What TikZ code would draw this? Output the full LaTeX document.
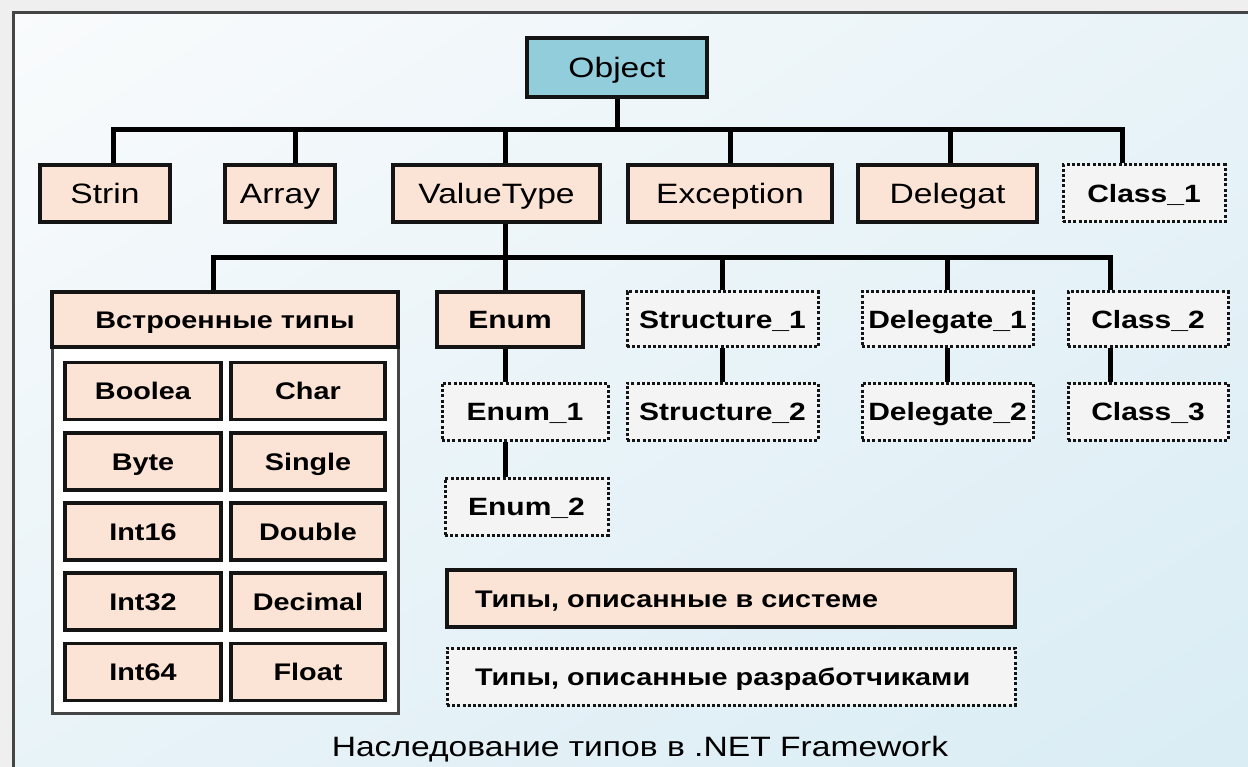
\documentclass[tikz,border=0pt]{standalone}
\usepackage{fontspec}
\setmainfont{Liberation Sans}[FakeStretch=1.2]
\usetikzlibrary{shadings}
\definecolor{peach}{HTML}{FBE4D5}
\definecolor{objblue}{HTML}{92CDDC}
\definecolor{usergray}{HTML}{F4F4F4}
\definecolor{boxline}{HTML}{141414}
\definecolor{framegray}{HTML}{454545}
\definecolor{margingray}{HTML}{EFEFEF}
\definecolor{bgtop}{HTML}{F9FBFC}
\definecolor{bgmid}{HTML}{E8F3F8}
\definecolor{bgbottom}{HTML}{D9ECF4}

\begin{document}
\begin{tikzpicture}[x=1pt, y=-1pt, every node/.style={inner sep=0pt,text depth=0pt}]
  \tikzstyle{sysbox}=[draw=boxline,line width=3.3pt,fill=peach,minimum height=57pt]
  \tikzstyle{userbox}=[draw=boxline,line width=3pt,dash pattern=on 3pt off 2.2pt,fill=usergray,minimum height=57pt]
  \tikzstyle{branch}=[line width=5pt,draw=black]
  \tikzstyle{toptext}=[font=\fontsize{28}{30}\selectfont,text height=20pt]
  \tikzstyle{subtext}=[font=\fontsize{25}{28}\selectfont\bfseries,text height=18pt]
  \tikzstyle{celltext}=[font=\fontsize{24}{26}\selectfont\bfseries,text height=17.2pt]
  \useasboundingbox (0,0) rectangle (1248,767);
  \clip (0,0) rectangle (1248,767);
  \fill[margingray] (0,0) rectangle (1248,767);
  \shade[upper left=bgtop,upper right=bgmid,lower left=bgmid,lower right=bgbottom] (13,13) rectangle (1262,782);
  \draw[framegray,line width=3pt] (1262,13) -- (13,13) -- (13,782);

  \node[sysbox,fill=objblue,minimum width=180pt,minimum height=59pt,toptext] (obj) at (617,67.5) {Object};
  \node[sysbox,minimum width=130pt,toptext] (strin) at (105,193.5) {Strin};
  \node[sysbox,minimum width=110pt,toptext] (arr) at (280,193.5) {Array};
  \node[sysbox,minimum width=207pt,toptext] (vt) at (496.5,193.5) {ValueType};
  \node[sysbox,minimum width=204pt,toptext] (exc) at (730,193.5) {Exception};
  \node[sysbox,minimum width=179pt,toptext] (dlg) at (947.5,193.5) {Delegat};
  \node[userbox,minimum width=162pt,subtext] (clsone) at (1144,193.5) {Class\_1};

  \node[draw=framegray,line width=3pt,fill=white,minimum width=346pt,minimum height=421pt] (builtin) at (225,502.5) {};
  \node[sysbox,minimum width=346pt,minimum height=55pt,celltext] (bihead) at (225,319.5) {Встроенные типы};
  \node[sysbox,minimum width=146pt,minimum height=55pt,subtext] (enum) at (510,319.5) {Enum};
  \node[userbox,minimum width=191pt,minimum height=55pt,subtext] (structone) at (722.5,319.5) {Structure\_1};
  \node[userbox,minimum width=171pt,minimum height=55pt,subtext] (dlgone) at (947.5,319.5) {Delegate\_1};
  \node[userbox,minimum width=160pt,minimum height=55pt,subtext] (clstwo) at (1148,319.5) {Class\_2};

  \node[userbox,minimum width=166pt,subtext] (enumone) at (525,411.5) {Enum\_1};
  \node[userbox,minimum width=191pt,subtext] (structtwo) at (722.5,411.5) {Structure\_2};
  \node[userbox,minimum width=171pt,subtext] (dlgtwo) at (947.5,411.5) {Delegate\_2};
  \node[userbox,minimum width=160pt,subtext] (clsthree) at (1148,411.5) {Class\_3};
  \node[userbox,minimum width=163pt,subtext] (enumtwo) at (526.5,506.5) {Enum\_2};

  \node[sysbox,minimum width=156pt,celltext] (boolea) at (143,391) {Boolea};
  \node[sysbox,minimum width=154pt,celltext] (char) at (308,391) {Char};
  \node[sysbox,minimum width=156pt,celltext] (byte) at (143,461.5) {Byte};
  \node[sysbox,minimum width=154pt,celltext] (single) at (308,461.5) {Single};
  \node[sysbox,minimum width=156pt,celltext] (intsixteen) at (143,531.5) {Int16};
  \node[sysbox,minimum width=154pt,celltext] (double) at (308,531.5) {Double};
  \node[sysbox,minimum width=156pt,celltext] (intthirtytwo) at (143,601.5) {Int32};
  \node[sysbox,minimum width=154pt,celltext] (decimal) at (308,601.5) {Decimal};
  \node[sysbox,minimum width=156pt,celltext] (intsixtyfour) at (143,672) {Int64};
  \node[sysbox,minimum width=154pt,celltext] (float) at (308,672) {Float};

  \node[sysbox,minimum width=568pt,text width=512pt,align=left,celltext] (legsys) at (731,598.5) {Типы, описанные в системе};
  \node[userbox,minimum width=568pt,text width=512pt,align=left,celltext] (leguser) at (731,676.5) {Типы, описанные разработчиками};
  \node[font=\fontsize{28}{30}\selectfont,text height=20pt] (caption) at (640,746) {Наследование типов в .NET Framework};

  \coordinate (barone) at (617,130);
  \coordinate (bartwo) at (505,258);
  \draw[branch] (obj.south) -- (barone);
  \draw[branch] ([xshift=8pt]strin.north) |- (barone) -| ([xshift=-22pt]clsone.north);
  \draw[branch] ([xshift=15pt]arr.north) -- ([xshift=15pt]arr.north |- barone);
  \draw[branch] (vt.north -| bartwo) -- (bartwo |- barone);
  \draw[branch] (exc.north) -- (exc.north |- barone);
  \draw[branch] ([xshift=3pt]dlg.north) -- ([xshift=3pt]dlg.north |- barone);
  \draw[branch] (vt.south -| bartwo) -- (enum.north -| bartwo);
  \draw[branch] ([xshift=-12pt]bihead.north) |- (bartwo) -| ([xshift=-38pt]clstwo.north);
  \draw[branch] (structone.north) -- (structone.north |- bartwo);
  \draw[branch] (dlgone.north) -- (dlgone.north |- bartwo);
  \draw[branch] (enum.south -| bartwo) -- (enumone.north -| bartwo);
  \draw[branch] (enumone.south -| bartwo) -- (enumtwo.north -| bartwo);
  \draw[branch] (structone.south) -- (structtwo.north);
  \draw[branch] (dlgone.south) -- (dlgtwo.north);
  \draw[branch] ([xshift=-38pt]clstwo.south) -- ([xshift=-38pt]clsthree.north);
\end{tikzpicture}
\end{document}
